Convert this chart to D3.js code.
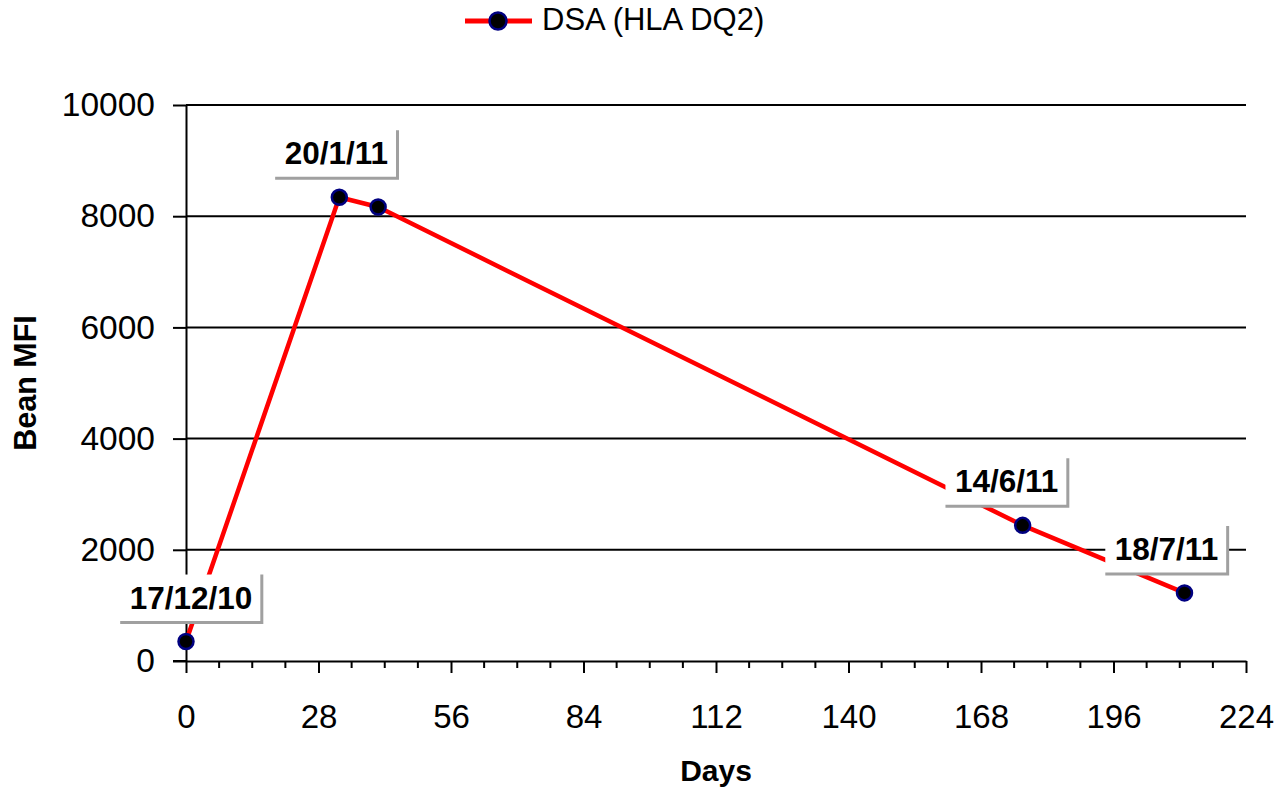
<!DOCTYPE html>
<html>
<head>
<meta charset="utf-8">
<script src="https://cdn.jsdelivr.net/npm/d3@7"></script>
<style>
  html, body { margin: 0; padding: 0; background: #fff; }
  svg { display: block; font-family: "Liberation Sans", Arial, sans-serif; }
</style>
</head>
<body>
<svg id="chart" width="1280" height="791"></svg>
<script>
// ---- data ----
const seriesName = "DSA (HLA DQ2)";
const days = [0, 32.4, 40.6, 176.8, 211];
const mfi = [350, 8340, 8165, 2440, 1225];
const labelIndex = [0, 1, 3, 4];
const labelText = ["17/12/10", "20/1/11", "14/6/11", "18/7/11"];
const labelDx = [5, -3, -16, -18];
const xMajorTicks = [0, 28, 56, 84, 112, 140, 168, 196, 224];
const xMinorTicks = d3.range(0, 225, 7).filter(d => d % 28 !== 0);
const yTicks = [0, 2000, 4000, 6000, 8000, 10000];
const xTitle = "Days";
const yTitle = "Bean MFI";

// ---- layout ----
const svg = d3.select("#chart");
const pL = 186, pR = 1246, pT = 105, pB = 661;
const x = d3.scaleLinear().domain([0, 224]).range([pL, pR]);
const y = d3.scaleLinear().domain([0, 10000]).range([pB, pT]);

// gridlines
svg.append("g")
  .selectAll("line")
  .data(yTicks.filter(d => d > 0))
  .join("line")
  .attr("x1", pL).attr("x2", pR)
  .attr("y1", d => y(d)).attr("y2", d => y(d))
  .attr("stroke", "#000").attr("stroke-width", 2);

// y axis
const yAxis = svg.append("g")
  .attr("transform", `translate(${pL},0)`)
  .call(d3.axisLeft(y).tickValues(yTicks).tickSize(13).tickPadding(18).tickSizeOuter(0).tickFormat(d3.format("d")));
yAxis.select(".domain").attr("stroke", "#000").attr("stroke-width", 2);
yAxis.selectAll(".tick line").attr("stroke", "#000").attr("stroke-width", 2);
yAxis.selectAll(".tick text").attr("font-size", 33.5).attr("fill", "#000")
  .attr("font-family", "Liberation Sans, Arial, sans-serif");

// x axis
const xAxis = svg.append("g")
  .attr("transform", `translate(0,${pB})`)
  .call(d3.axisBottom(x).tickValues(xMajorTicks).tickSize(12).tickSizeOuter(0).tickFormat(d3.format("d")));
xAxis.select(".domain").attr("stroke", "#000").attr("stroke-width", 2);
xAxis.selectAll(".tick line").attr("stroke", "#000").attr("stroke-width", 2);
xAxis.selectAll(".tick text").attr("font-size", 33).attr("fill", "#000")
  .attr("y", 67).attr("dy", 0)
  .attr("font-family", "Liberation Sans, Arial, sans-serif");
// minor ticks
xAxis.append("g").selectAll("line")
  .data(xMinorTicks)
  .join("line")
  .attr("x1", d => x(d)).attr("x2", d => x(d))
  .attr("y1", 0).attr("y2", 7)
  .attr("stroke", "#000").attr("stroke-width", 2);
// extend x axis line left to meet y tick
svg.append("line").attr("x1", pL - 13).attr("x2", pL).attr("y1", pB).attr("y2", pB)
  .attr("stroke", "#000").attr("stroke-width", 2);

// series line
const pts = days.map((d, i) => ({ d, v: mfi[i] }));
svg.append("path")
  .datum(pts)
  .attr("fill", "none")
  .attr("stroke", "#ff0000")
  .attr("stroke-width", 4.5)
  .attr("stroke-linejoin", "round")
  .attr("d", d3.line().x(p => x(p.d)).y(p => y(p.v)));

// markers
svg.append("g").selectAll("circle")
  .data(pts)
  .join("circle")
  .attr("cx", p => x(p.d)).attr("cy", p => y(p.v))
  .attr("r", 7.5)
  .attr("fill", "#000")
  .attr("stroke", "#000080")
  .attr("stroke-width", 2.5);

// data labels
const lbl = svg.append("g").selectAll("g")
  .data(labelIndex.map((idx, k) => ({ p: pts[idx], text: labelText[k], dx: labelDx[k] })))
  .join("g")
  .attr("transform", o => `translate(${x(o.p.d) + o.dx},${y(o.p.v) - 67})`);
lbl.each(function (o) {
  const g = d3.select(this);
  const t = g.append("text")
    .attr("text-anchor", "middle")
    .attr("x", 0).attr("y", 34)
    .attr("font-size", 31.5).attr("font-weight", "bold").attr("fill", "#000")
    .text(o.text);
  const w = t.node().getComputedTextLength() + 19;
  g.insert("rect", "text")
    .attr("x", -w / 2).attr("y", 0).attr("width", w).attr("height", 48)
    .attr("fill", "#fff");
  g.insert("path", "text")
    .attr("d", `M${-w / 2},48 H${w / 2} V0`)
    .attr("fill", "none").attr("stroke", "#a0a0a0").attr("stroke-width", 3);
});

// axis titles
svg.append("text")
  .attr("x", (pL + pR) / 2).attr("y", 781)
  .attr("text-anchor", "middle")
  .attr("font-size", 30).attr("font-weight", "bold")
  .text(xTitle);
svg.append("text")
  .attr("transform", `translate(36,${(pT + pB) / 2}) rotate(-90)`)
  .attr("text-anchor", "middle")
  .attr("font-size", 30.5).attr("font-weight", "bold")
  .text(yTitle);

// legend
const lg = svg.append("g").attr("transform", "translate(465,21)");
lg.append("line").attr("x1", 0).attr("x2", 67).attr("y1", 0).attr("y2", 0)
  .attr("stroke", "#ff0000").attr("stroke-width", 5);
lg.append("circle").attr("cx", 33).attr("cy", 0).attr("r", 8.5)
  .attr("fill", "#000").attr("stroke", "#000080").attr("stroke-width", 2.5);
lg.append("text").attr("x", 77).attr("y", 9)
  .attr("font-size", 31).attr("fill", "#000")
  .text(seriesName);
</script>
</body>
</html>
